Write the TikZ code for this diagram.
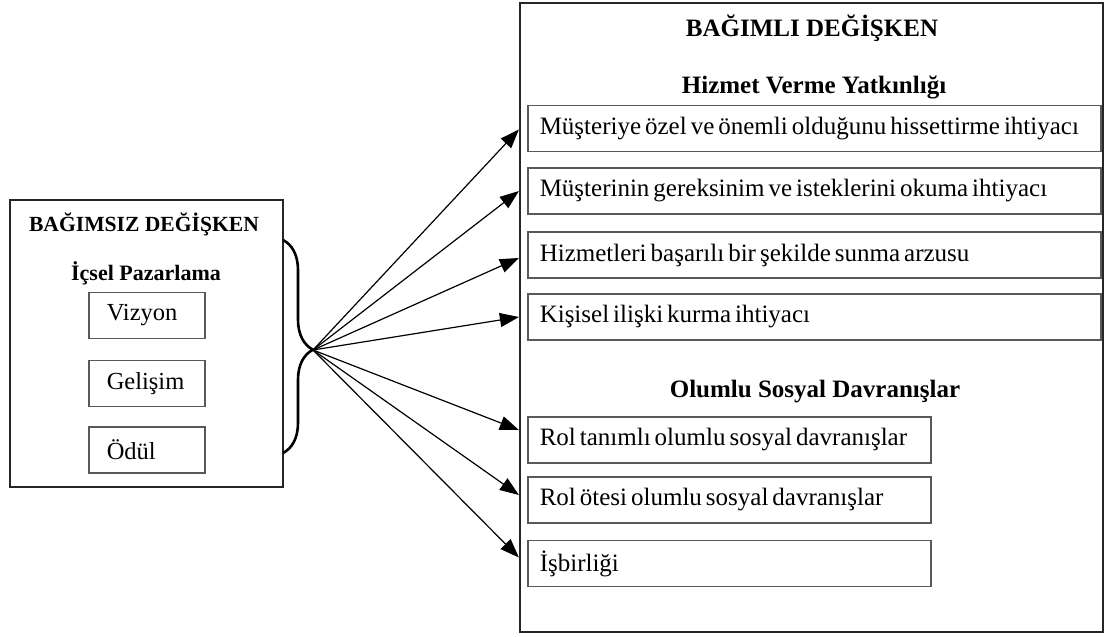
\documentclass[tikz,border=0pt]{standalone}
\usepackage{fontspec}
\setmainfont{Liberation Serif}
\usetikzlibrary{arrows.meta}
\usetikzlibrary{decorations.pathreplacing}
\usetikzlibrary{calc}

\begin{document}
\begin{tikzpicture}[x=1pt,y=-1pt]
  \useasboundingbox (0,0) rectangle (1112,637);
  \tikzstyle{every node}=[rectangle,inner sep=0pt]
  \tikzstyle{bigbox}=[draw=black!85,line width=2.2pt]
  \tikzstyle{itembox}=[draw=black!65,line width=1.5pt,minimum height=46pt,inner xsep=12pt,anchor=west]
  \tikzstyle{head}=[font=\fontsize{25}{30}\selectfont\bfseries]
  \tikzstyle{body}=[font=\fontsize{25}{30}\selectfont]
  \newcommand{\boxtxt}[2]{\makebox[#1][l]{\spaceskip=4pt\relax #2}}

%% independent variable
  \node[bigbox,minimum width=273pt,minimum height=287pt] (indep) at (146.5,343.5) {};
  \node[font=\fontsize{21.6}{26}\selectfont\bfseries] (indepT) at (144,224) {BAĞIMSIZ DEĞİŞKEN};
  \node[font=\fontsize{22}{26}\selectfont\bfseries] (icp) at (146,273) {İçsel Pazarlama};
  \foreach \n/\y/\txt in {viz/315.5/Vizyon, gel/383.5/Gelişim, odl/450/Ödül}
    \node[itembox,inner xsep=18pt,font=\fontsize{24.5}{29}\selectfont] (\n) at (88,\y) {\boxtxt{80pt}{\txt}};

%% dependent variable
  \node[bigbox,minimum width=583pt,minimum height=629pt] (dep) at (811.5,317.5) {};
  \node[head] (depT) at (812,28) {BAĞIMLI DEĞİŞKEN};
  \node[head] (hvy) at (814,87) {Hizmet Verme Yatkınlığı};
  \node[head] (osd) at (815,392) {Olumlu Sosyal Davranışlar};
  \foreach \n/\y/\txt in {hv1/128.5/Müşteriye özel ve önemli olduğunu hissettirme ihtiyacı,
                          hv2/191/Müşterinin gereksinim ve isteklerini okuma ihtiyacı,
                          hv3/255/Hizmetleri başarılı bir şekilde sunma arzusu,
                          hv4/317/Kişisel ilişki kurma ihtiyacı}
    \node[itembox,body] (\n) at (527,\y) {\boxtxt{549pt}{\txt}};
  \foreach \n/\y/\txt in {os1/440/Rol tanımlı olumlu sosyal davranışlar,
                          os2/500/Rol ötesi olumlu sosyal davranışlar,
                          os3/563.5/İşbirliği}
    \node[itembox,body] (\n) at (527,\y) {\boxtxt{379pt}{\txt}};

%% brace and arrows
  \coordinate (bt) at (283,240);
  \coordinate (bb) at (283,453);
  \coordinate (tip) at (313,350);
  \draw[line width=2.6pt,decorate,decoration={brace,amplitude=30pt,aspect=0.515}] (bt) -- (bb);
  \tikzstyle{arr}=[line width=1.2pt,-{Triangle[length=19pt,width=14pt]}]
  \foreach \n/\dy in {hv1/1,hv2/0,hv3/3,hv4/0,os1/-10,os2/-5,os3/-6}
    \draw[arr] (tip) -- ($(dep.west |- \n)+(0,\dy)$);
\end{tikzpicture}
\end{document}
